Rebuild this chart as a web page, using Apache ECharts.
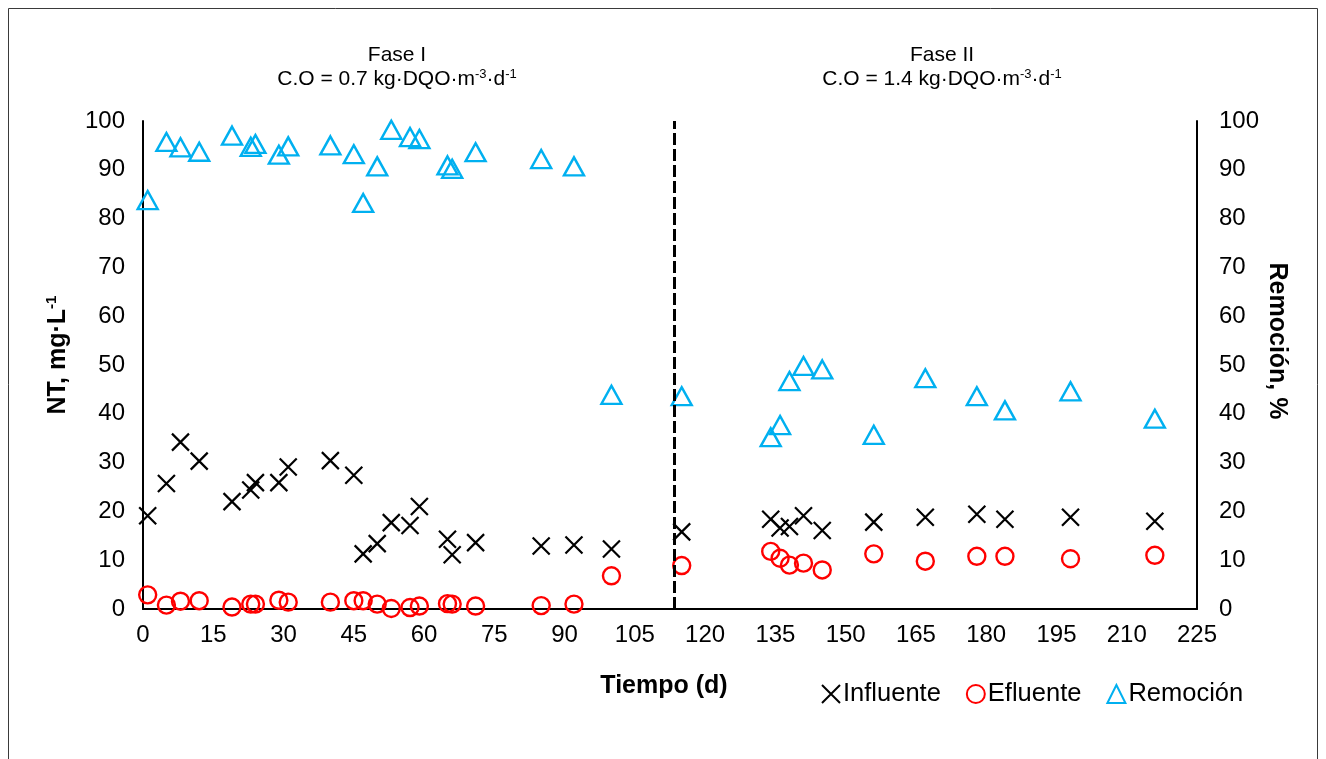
<!DOCTYPE html>
<html>
<head>
<meta charset="utf-8">
<script src="https://cdn.jsdelivr.net/npm/echarts@6/dist/echarts.min.js"></script>
<style>
html,body{margin:0;padding:0;background:#fff;}
#chart{width:1326px;height:759px;}
</style>
</head>
<body>
<div id="chart"></div>
<script>
// ---- data ----
const days = [1,5,8,12,19,23,24,29,31,40,45,47,50,53,57,59,65,66,71,85,92,100,115,134,136,138,141,145,156,167,178,184,198,216];
const influente = [19.1,25.7,34.2,30.3,22.0,24.4,25.9,25.9,29.1,30.4,27.4,11.3,13.4,17.7,17.1,21.0,14.3,11.1,13.6,12.9,13.1,12.3,15.8,18.4,16.6,16.9,19.1,16.1,17.8,18.8,19.4,18.4,18.8,18.0];
const efluente = [2.9,0.8,1.6,1.7,0.4,1.0,1.0,1.8,1.4,1.4,1.7,1.7,1.0,0.1,0.3,0.6,1.1,1.0,0.6,0.7,1.0,6.8,8.9,11.8,10.4,9.0,9.4,8.0,11.3,9.8,10.8,10.8,10.3,11.0];
const remocion = [83.8,95.7,94.6,93.7,97.0,94.7,95.3,93.1,94.8,95.0,93.2,83.2,90.7,98.2,96.7,96.3,90.9,90.2,93.6,92.2,90.7,43.9,43.6,35.2,37.7,46.7,49.8,49.1,35.7,47.3,43.6,40.7,44.6,39.0];
const phaseSplit = 113.4;
const seriesNames = ['Influente','Efluente','Remoción'];
const xTitle = 'Tiempo (d)';
const phase1 = ['Fase I', '0.7'];
const phase2 = ['Fase II', '1.4'];

const pair = (ys) => days.map((d,i) => [d, ys[i]]);
const FONT = 'Liberation Sans, Arial, sans-serif';
const chart = echarts.init(document.getElementById('chart'));

const coRich = {
  n: {fontSize: 21, fontFamily: FONT, color: '#000'},
  sup: {fontSize: 13, fontFamily: FONT, color: '#000', padding: [0,0,10,0]}
};
function coText(v){ return '{n|C.O = ' + v + ' kg·DQO·m}{sup|-3}{n|·d}{sup|-1}'; }

const option = {
  animation: false,
  backgroundColor: '#fff',
  grid: {left: 143, right: 129, top: 121, bottom: 150, containLabel: false},
  xAxis: {
    type: 'value', min: 0, max: 225, interval: 15,
    axisLine: {show: true, lineStyle: {color: '#000', width: 2}},
    axisTick: {show: false},
    splitLine: {show: false},
    axisLabel: {fontSize: 24, fontFamily: FONT, color: '#000', margin: 14}
  },
  yAxis: [
    {
      type: 'value', min: 0, max: 100, interval: 10, position: 'left',
      axisLine: {show: true, onZero: false, lineStyle: {color: '#000', width: 2}},
      axisTick: {show: false}, splitLine: {show: false},
      axisLabel: {fontSize: 24, fontFamily: FONT, color: '#000', margin: 18}
    },
    {
      type: 'value', min: 0, max: 100, interval: 10, position: 'right',
      axisLine: {show: true, onZero: false, lineStyle: {color: '#000', width: 2}},
      axisTick: {show: false}, splitLine: {show: false},
      axisLabel: {fontSize: 24, fontFamily: FONT, color: '#000', margin: 22}
    }
  ],
  legend: {
    left: 816, top: 676,
    itemWidth: 18, itemHeight: 18, itemGap: 25,
    textStyle: {fontSize: 25.5, fontFamily: FONT, color: '#000', padding: [0,0,0,-2]},
    data: seriesNames
  },
  series: [
    {
      name: seriesNames[0], type: 'scatter', yAxisIndex: 0,
      symbol: 'path://M0,0L10,10M10,0L0,10', symbolSize: 17,
      itemStyle: {color: 'rgba(0,0,0,0)', borderColor: '#000', borderWidth: 2.2, opacity: 1},
      data: pair(influente),
      markLine: {
        silent: true, symbol: 'none', label: {show: false},
        lineStyle: {color: '#000', width: 3, type: [12,4], opacity: 1},
        data: [{xAxis: phaseSplit}]
      }
    },
    {
      name: seriesNames[1], type: 'scatter', yAxisIndex: 0,
      symbol: 'circle', symbolSize: 17,
      itemStyle: {color: 'rgba(0,0,0,0)', borderColor: '#FF0000', borderWidth: 2.4, opacity: 1},
      data: pair(efluente)
    },
    {
      name: seriesNames[2], type: 'scatter', yAxisIndex: 1,
      symbol: 'triangle', symbolSize: [20,18],
      itemStyle: {color: 'rgba(0,0,0,0)', borderColor: '#00B0F0', borderWidth: 2.4, opacity: 1},
      data: pair(remocion)
    }
  ],
  graphic: [
    {type: 'rect', shape: {x: 8.5, y: 8.5, width: 1309, height: 760}, style: {fill: 'none', stroke: '#3a3a3a', lineWidth: 1}, silent: true},
    {type: 'text', x: 397, y: 55, style: {text: phase1[0], font: '21px ' + FONT, fill: '#000', textAlign: 'center', textVerticalAlign: 'middle'}},
    {type: 'text', x: 397, y: 79, style: {text: coText(phase1[1]), rich: coRich, textAlign: 'center', textVerticalAlign: 'middle'}},
    {type: 'text', x: 942, y: 55, style: {text: phase2[0], font: '21px ' + FONT, fill: '#000', textAlign: 'center', textVerticalAlign: 'middle'}},
    {type: 'text', x: 942, y: 79, style: {text: coText(phase2[1]), rich: coRich, textAlign: 'center', textVerticalAlign: 'middle'}},
    {type: 'text', x: 664, y: 686, style: {text: xTitle, font: 'bold 25px ' + FONT, fill: '#000', textAlign: 'center', textVerticalAlign: 'middle'}},
    {type: 'text', x: 58, y: 355, rotation: Math.PI/2,
      style: {text: '{b|NT, mg·L}{s|-1}', textAlign: 'center', textVerticalAlign: 'middle',
        rich: {b: {fontSize: 25, fontWeight: 'bold', fontFamily: FONT, color: '#000'},
               s: {fontSize: 15, fontWeight: 'bold', fontFamily: FONT, color: '#000', padding: [0,0,12,0]}}}},
    {type: 'text', x: 1277, y: 341, rotation: -Math.PI/2,
      style: {text: 'Remoción, %', font: 'bold 25px ' + FONT, fill: '#000', textAlign: 'center', textVerticalAlign: 'middle'}}
  ]
};
chart.setOption(option);
</script>
</body>
</html>
